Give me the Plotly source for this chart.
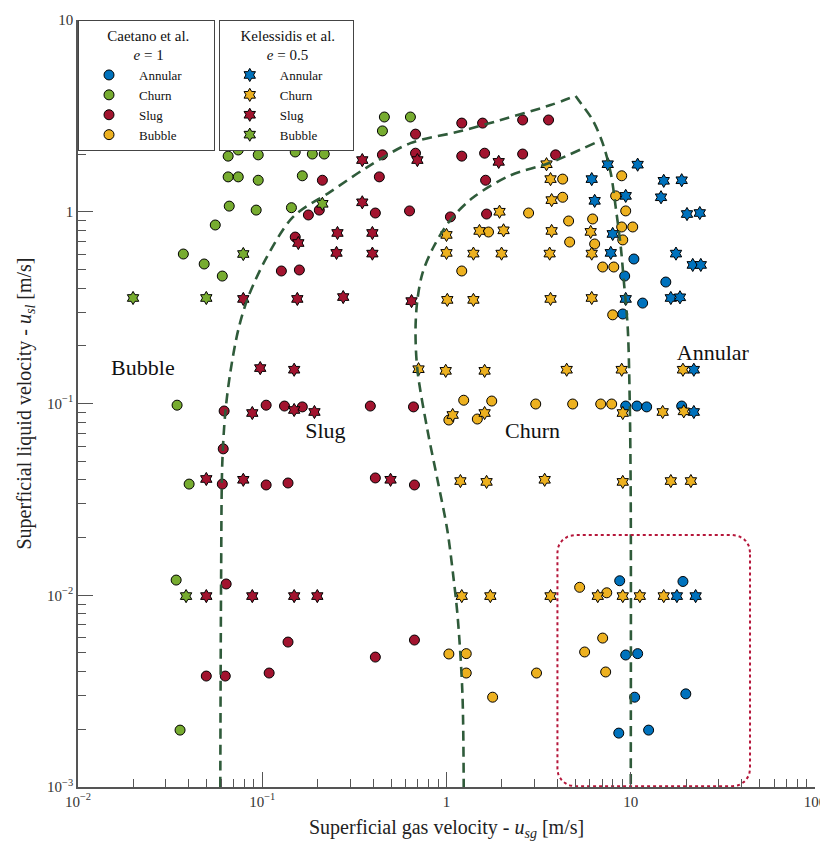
import numpy as np
import plotly.graph_objects as go

# ---------------- data ----------------
# Caetano et al. (circles)
caetano_annular_x = [10.4, 9.27, 15.5, 11.6, 9.05, 9.39, 10.8, 12.2, 18.9, 8.71, 19.2, 9.39, 10.9, 10.5, 19.9, 8.61, 12.5]
caetano_annular_y = [0.567, 0.462, 0.430, 0.334, 0.293, 0.097, 0.097, 0.096, 0.097, 0.0119, 0.0118, 0.00488, 0.00496, 0.00294, 0.00306, 0.00191, 0.00198]

caetano_churn_x = [0.0695, 0.0653, 0.0741, 0.0951, 0.151, 0.185, 0.215, 0.151, 0.187, 0.217, 0.0653, 0.0741, 0.0951, 0.165,
                   0.0662, 0.0927, 0.144, 0.0556, 0.0373, 0.0484, 0.0607, 0.460, 0.637, 0.449, 0.0345, 0.0401, 0.0341, 0.0358]
caetano_churn_y = [2.45, 1.95, 2.10, 1.98, 2.45, 2.45, 2.43, 2.05, 2.00, 2.00, 1.52, 1.52, 1.46, 1.54,
                   1.07, 1.02, 1.05, 0.853, 0.602, 0.534, 0.462, 3.12, 3.12, 2.64, 0.098, 0.038, 0.0120, 0.00198]

caetano_slug_x = [1.21, 1.57, 2.59, 3.58, 0.679, 0.449, 0.679, 1.21, 1.61, 2.59, 3.91, 0.212, 0.432, 1.63,
                  0.178, 0.204, 0.411, 0.630, 1.05, 1.65, 0.151, 0.127, 0.159, 0.0621, 0.105, 0.132, 0.165, 0.386,
                  0.662, 0.0614, 0.0607, 0.105, 0.138, 0.411, 0.670, 0.0637, 0.0497, 0.0630, 0.109, 0.138, 0.411, 0.670]
caetano_slug_y = [2.90, 2.90, 3.01, 3.01, 2.54, 1.98, 2.02, 1.95, 2.02, 2.00, 1.98, 1.46, 1.52, 1.46,
                  0.962, 1.02, 0.985, 1.01, 0.94, 0.973, 0.738, 0.491, 0.497, 0.0914, 0.098, 0.097, 0.096, 0.097,
                  0.096, 0.058, 0.038, 0.0376, 0.0385, 0.0409, 0.0376, 0.01145, 0.00379, 0.00379, 0.00393, 0.0057, 0.00476, 0.00584]

caetano_bubble_x = [2.79, 1.69, 1.21, 4.27, 8.93, 4.27, 8.28, 9.39, 4.60, 6.21, 8.93, 10.25, 4.66, 6.37, 9.05, 7.04,
                    8.09, 7.98, 1.24, 1.76, 3.05, 1.03, 1.47, 4.84, 6.87, 7.88, 5.28, 7.41, 7.04, 5.62, 7.31, 3.08,
                    1.03, 1.28, 1.28, 1.78]
caetano_bubble_y = [0.985, 0.784, 0.491, 1.48, 1.54, 1.19, 1.21, 1.01, 0.895, 0.917, 0.833, 0.833, 0.695, 0.679, 0.713, 0.515,
                    0.515, 0.290, 0.104, 0.103, 0.0994, 0.082, 0.083, 0.0994, 0.0994, 0.0994, 0.0110, 0.0103, 0.00598, 0.00506, 0.00398, 0.00393,
                    0.00494, 0.00496, 0.00393, 0.00294]

# Kelessidis et al. (stars)
kel_annular_x = [7.50, 10.9, 6.14, 15.1, 18.9, 6.37, 9.39, 14.6, 20.2, 23.7, 7.98, 7.79, 17.6, 21.7, 24.0,
                 16.5, 18.5, 9.39, 22.0, 22.0, 17.8, 22.5]
kel_annular_y = [1.77, 1.76, 1.48, 1.45, 1.46, 1.14, 1.21, 1.19, 0.973, 0.985, 0.766, 0.61, 0.605, 0.528, 0.528,
                 0.355, 0.358, 0.351, 0.150, 0.0903, 0.0099, 0.0099]

kel_churn_x = [1.94, 1.51, 2.04, 1.0, 1.0, 1.40, 1.99, 1.01, 1.40, 3.49, 3.67, 3.72, 3.72, 6.06, 3.63, 6.14, 3.67, 6.14,
               0.705, 0.99, 1.61, 1.08, 1.61, 1.19, 1.65, 3.41, 4.49, 8.93, 19.2, 9.05, 14.9, 19.4, 9.05, 16.5, 21.2,
               1.21, 1.73, 3.67, 6.62, 9.05, 11.2, 15.1]
kel_churn_y = [1.0, 0.794, 0.80, 0.757, 0.610, 0.605, 0.605, 0.347, 0.347, 1.77, 1.48, 1.15, 0.794, 0.785, 0.605, 0.605, 0.351, 0.355,
               0.151, 0.148, 0.148, 0.0871, 0.0892, 0.0394, 0.039, 0.040, 0.150, 0.150, 0.150, 0.0892, 0.0903, 0.091, 0.039, 0.0394, 0.0394,
               0.0099, 0.0099, 0.0099, 0.0099, 0.0099, 0.0099, 0.0099]

kel_slug_x = [0.157, 0.0789, 0.155, 0.349, 0.695, 0.349, 0.256, 0.396, 0.253, 0.396, 0.275, 0.646, 1.92,
              0.0975, 0.149, 0.0883, 0.149, 0.192, 0.0497, 0.0789, 0.497, 0.0497, 0.0883, 0.149, 0.199]
kel_slug_y = [0.687, 0.351, 0.351, 1.86, 1.86, 1.12, 0.775, 0.775, 0.610, 0.605, 0.359, 0.342, 1.82,
              0.153, 0.150, 0.0892, 0.0925, 0.0903, 0.0404, 0.040, 0.040, 0.0099, 0.0099, 0.0099, 0.0099]

kel_bubble_x = [0.0199, 0.0497, 0.0789, 0.212, 0.0386]
kel_bubble_y = [0.355, 0.355, 0.602, 1.10, 0.0099]

# Flow-regime boundary curves
bound_left_x = [0.0592, 0.0598, 0.0607, 0.0630, 0.0670, 0.0741, 0.0839, 0.106, 0.147, 0.234, 0.372, 0.637, 1.15, 1.97, 3.67, 5.02]
bound_left_y = [0.001, 0.01245, 0.049, 0.0892, 0.144, 0.242, 0.359, 0.581, 0.940, 1.27, 1.71, 2.28, 2.61, 3.01, 3.60, 4.02]
bound_right_x = [5.02, 5.35, 6.21, 7.04, 7.79, 8.28, 8.83, 9.16, 9.63, 9.87, 10.0, 10.0]
bound_right_y = [4.02, 3.69, 3.01, 2.28, 1.59, 1.06, 0.655, 0.440, 0.248, 0.105, 0.03, 0.001]
bound_inner_x = [6.37, 3.58, 2.23, 1.40, 1.05, 0.850, 0.741, 0.695, 0.679, 0.695, 0.788, 0.894, 1.01, 1.09, 1.15, 1.22, 1.24]
bound_inner_y = [2.28, 1.79, 1.55, 1.19, 0.906, 0.655, 0.479, 0.347, 0.242, 0.150, 0.0727, 0.0399, 0.0219, 0.01245, 0.0077, 0.00309, 0.001]

# Highlight box (data extents)
box_x = [4.0, 44.4]
box_y = [0.00101, 0.0206]

# Region labels
region_names = ["Bubble", "Slug", "Churn", "Annular"]
region_x = [0.0225, 0.220, 2.93, 27.9]
region_y = [0.150, 0.0702, 0.0702, 0.181]

x_tickvals = [0.01, 0.1, 1, 10, 100]
x_ticktext = ["10<sup>−2</sup>", "10<sup>−1</sup>", "1", "10", "100"]
y_tickvals = [0.001, 0.01, 0.1, 1, 10]
y_ticktext = ["10<sup>−3</sup>", "10<sup>−2</sup>", "10<sup>−1</sup>", "1", "10"]

# ---------------- styling ----------------
SERIF = "Liberation Serif"
C_BLUE = "#0072BD"
C_ORANGE = "#EDB120"
C_RED = "#A2142F"
C_GREEN = "#77AC30"
C_LINE = "#2F5B3A"
C_BOX = "#B5163A"
AX = "#555555"
NB = "&nbsp;"

fig = go.Figure()


def add_pts(x, y, color, symbol, name, legend, size):
    fig.add_trace(go.Scatter(
        x=x, y=y, mode="markers", name=name, legend=legend,
        marker=dict(color=color, symbol=symbol, size=size, line=dict(color="black", width=1)),
    ))


add_pts(caetano_annular_x, caetano_annular_y, C_BLUE, "circle", "Annular", "legend", 10)
add_pts(caetano_churn_x, caetano_churn_y, C_GREEN, "circle", "Churn", "legend", 10)
add_pts(caetano_slug_x, caetano_slug_y, C_RED, "circle", "Slug", "legend", 10)
add_pts(caetano_bubble_x, caetano_bubble_y, C_ORANGE, "circle", "Bubble", "legend", 10)

add_pts(kel_annular_x, kel_annular_y, C_BLUE, "hexagram", "Annular", "legend2", 10)
add_pts(kel_churn_x, kel_churn_y, C_ORANGE, "hexagram", "Churn", "legend2", 10)
add_pts(kel_slug_x, kel_slug_y, C_RED, "hexagram", "Slug", "legend2", 10)
add_pts(kel_bubble_x, kel_bubble_y, C_GREEN, "hexagram", "Bubble", "legend2", 10)

for bx, by in [(bound_left_x, bound_left_y), (bound_right_x, bound_right_y), (bound_inner_x, bound_inner_y)]:
    fig.add_trace(go.Scatter(
        x=bx, y=by, mode="lines", showlegend=False, hoverinfo="skip",
        line=dict(color=C_LINE, width=2.6, dash="10px,6px", shape="spline", smoothing=0.9),
    ))

# rounded dotted box, built in log space
lx0, lx1 = np.log10(box_x)
ly0, ly1 = np.log10(box_y)
rx, ry = 0.095, 0.09
t = np.linspace(0, np.pi / 2, 12)
pts = []
for cx, cy, a0 in [(lx1 - rx, ly1 - ry, 0.0), (lx0 + rx, ly1 - ry, np.pi / 2),
                   (lx0 + rx, ly0 + ry, np.pi), (lx1 - rx, ly0 + ry, 1.5 * np.pi)]:
    for a in a0 + t:
        pts.append((cx + rx * np.cos(a), cy + ry * np.sin(a)))
pts.append(pts[0])
pts = np.array(pts)
fig.add_trace(go.Scatter(
    x=10 ** pts[:, 0], y=10 ** pts[:, 1], mode="lines", showlegend=False, hoverinfo="skip",
    line=dict(color=C_BOX, width=2, dash="dot"),
))

fig.add_trace(go.Scatter(
    x=region_x, y=region_y, mode="text", text=region_names, showlegend=False, hoverinfo="skip",
    textfont=dict(family=SERIF, size=22, color="#111"), textposition="middle center",
))

minor_x = [m * 10.0 ** k for k in range(-2, 2) for m in range(2, 10)]
minor_y = [m * 10.0 ** k for k in range(-3, 1) for m in range(2, 10)]

axis_common = dict(
    type="log", showgrid=False, zeroline=False, showline=True, linecolor=AX, linewidth=1.5,
    ticks="inside", ticklen=15, tickwidth=1, tickcolor=AX, automargin=False,
    tickfont=dict(family=SERIF, size=15, color="#333"),
)

legend_common = dict(
    y=1.0, xanchor="left", yanchor="top", bgcolor="white", bordercolor="#444", borderwidth=1,
    font=dict(family=SERIF, size=13, color="#111"), itemwidth=50, tracegroupgap=0,
)

# the page body adds an 8px offset, so the figure is sized to fit the 828x841 window
fig.update_layout(
    width=820, height=833,
    margin=dict(l=70, r=13, t=12, b=54, autoexpand=False),
    plot_bgcolor="white", paper_bgcolor="white",
    xaxis=dict(
        **axis_common, range=[-2, 2], tickvals=x_tickvals, ticktext=x_ticktext,
        minor=dict(ticks="inside", ticklen=8, tickcolor=AX, tickvals=minor_x, showgrid=False),
    ),
    yaxis=dict(
        **axis_common, range=[-3, 1], tickvals=y_tickvals, ticktext=y_ticktext,
        minor=dict(ticks="inside", ticklen=8, tickcolor=AX, tickvals=minor_y, showgrid=False),
        title=dict(text="Superficial liquid velocity - <i>u<sub>sl</sub></i> [m/s]",
                   font=dict(family=SERIF, size=20, color="#222"), standoff=10),
    ),
    annotations=[dict(
        text="Superficial gas velocity - <i>u<sub>sg</sub></i> [m/s]",
        xref="paper", yref="paper", x=0.5, y=-0.054, xanchor="center", yanchor="middle",
        showarrow=False, font=dict(family=SERIF, size=20, color="#222"),
    )],
    legend=dict(
        **legend_common, x=0.0,
        title=dict(text=NB * 7 + "Caetano et al." + NB * 6 + "<br>" + NB * 14 + "<i>e</i> = 1",
                   side="top", font=dict(family=SERIF, size=15, color="#111")),
    ),
    legend2=dict(
        **legend_common, x=0.191,
        title=dict(text=NB * 5 + "Kelessidis et al." + NB * 4 + "<br>" + NB * 12 + "<i>e</i> = 0.5",
                   side="top", font=dict(family=SERIF, size=15, color="#111")),
    ),
)

fig.write_html("out.html")
